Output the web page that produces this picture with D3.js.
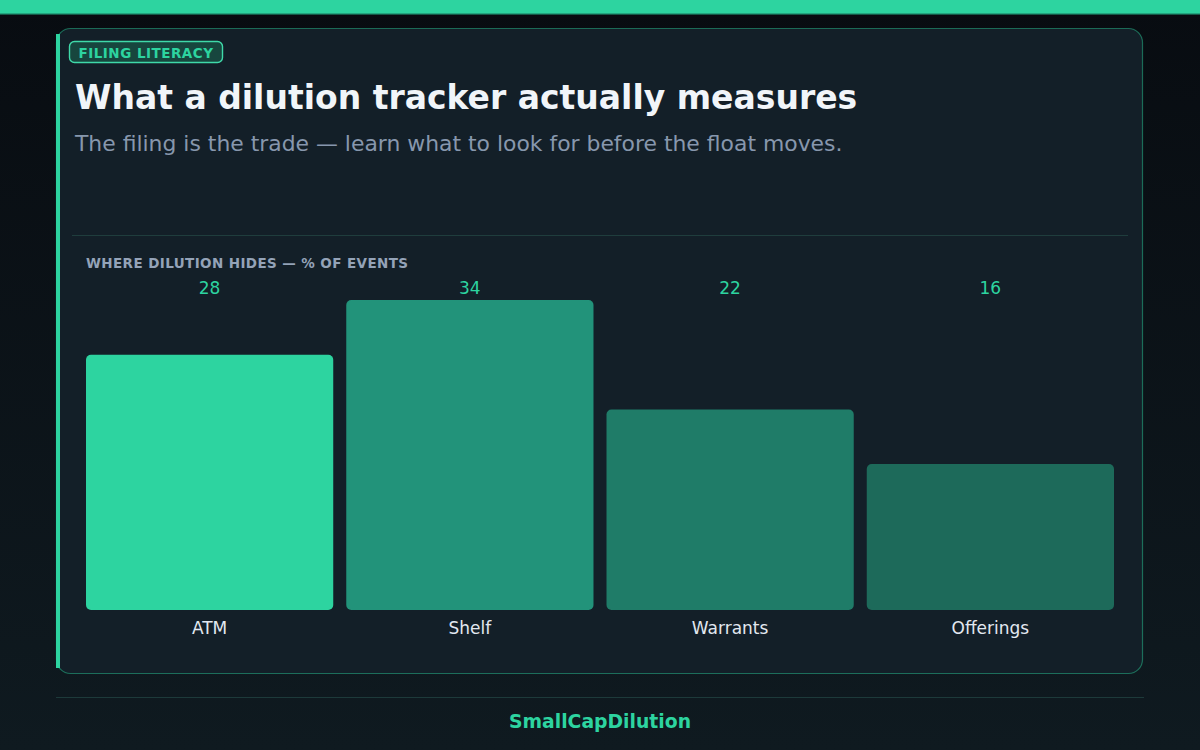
<!DOCTYPE html>
<meta charset="utf-8">
<script src="https://d3js.org/d3.v7.min.js"></script>
<style>
    html, body { margin: 0; padding: 0; background: #0b1117; }
    svg { display: block; font-family: "DejaVu Sans", sans-serif; }
</style>
<body>
<div id="chart"></div>
<script>
    // data
    var categories = ["ATM", "Shelf", "Warrants", "Offerings"];
    var shares = [28, 34, 22, 16];
    var barColors = ["#2dd4a0", "#22937a", "#1f7c68", "#1d6a5a"];

    var width = 1200, height = 750;
    var accent = "#2dd4a0";

    var svg = d3.select("#chart").append("svg")
        .attr("width", width)
        .attr("height", height);

    // background gradient
    var defs = svg.append("defs");
    var bg = defs.append("linearGradient").attr("id", "bg")
        .attr("x1", 0).attr("y1", 0).attr("x2", 0).attr("y2", 1);
    bg.append("stop").attr("offset", "0%").attr("stop-color", "#080c11");
    bg.append("stop").attr("offset", "100%").attr("stop-color", "#0f1a20");

    svg.append("rect").attr("width", width).attr("height", height).attr("fill", "url(#bg)");

    // top strip
    svg.append("rect").attr("x", 0).attr("y", 0).attr("width", width).attr("height", 14).attr("fill", accent);
    svg.append("rect").attr("x", 0).attr("y", 13).attr("width", width).attr("height", 1.5).attr("fill", "#22a57f");

    // card
    var card = { x: 56.5, y: 28.5, w: 1086, h: 645 };
    svg.append("rect")
        .attr("x", card.x).attr("y", card.y)
        .attr("width", card.w).attr("height", card.h)
        .attr("rx", 14)
        .attr("fill", "#131f28")
        .attr("stroke", "rgba(45,212,160,0.45)")
        .attr("stroke-width", 1.2);

    // left accent edge
    svg.append("rect")
        .attr("x", 56).attr("y", 34)
        .attr("width", 4).attr("height", 634)
        .attr("fill", accent);

    // badge
    svg.append("rect")
        .attr("x", 69.5).attr("y", 41.5)
        .attr("width", 153).attr("height", 21)
        .attr("rx", 5)
        .attr("fill", "#17463e")
        .attr("stroke", "#3fd9a9")
        .attr("stroke-width", 1.4);
    svg.append("text")
        .attr("x", 146).attr("y", 57.5)
        .attr("text-anchor", "middle")
        .style("font-size", "13.5px")
        .style("font-weight", "bold")
        .style("letter-spacing", "0.5px")
        .style("fill", accent)
        .text("FILING LITERACY");

    // title + subtitle
    svg.append("text")
        .attr("x", 75).attr("y", 109)
        .style("font-size", "33px")
        .style("font-weight", "bold")
        .style("fill", "#f1f5f9")
        .text("What a dilution tracker actually measures");

    svg.append("text")
        .attr("x", 75).attr("y", 151)
        .style("font-size", "21.9px")
        .style("fill", "#8797ad")
        .text("The filing is the trade \u2014 learn what to look for before the float moves.");

    // divider
    svg.append("line")
        .attr("x1", 72).attr("x2", 1128)
        .attr("y1", 235.5).attr("y2", 235.5)
        .attr("stroke", "#1f3d3d")
        .attr("stroke-width", 1);

    // chart label
    svg.append("text")
        .attr("x", 86).attr("y", 268)
        .style("font-size", "13.5px")
        .style("font-weight", "bold")
        .style("letter-spacing", "0.4px")
        .style("fill", "#94a3b8")
        .text("WHERE DILUTION HIDES \u2014 % OF EVENTS");

    // scales
    var x = d3.scaleBand()
        .domain(categories)
        .range([86, 1114])
        .paddingInner(0.05)
        .paddingOuter(0);

    var y = d3.scaleLinear()
        .domain([0, d3.max(shares)])
        .range([610, 300]);

    var data = categories.map(function (c, i) {
        return { name: c, value: shares[i], color: barColors[i] };
    });

    // bars
    svg.selectAll(".bar")
        .data(data)
        .enter()
        .append("rect")
        .attr("class", "bar")
        .attr("x", d => x(d.name))
        .attr("y", d => y(d.value))
        .attr("width", x.bandwidth())
        .attr("height", d => y(0) - y(d.value))
        .attr("rx", 5)
        .attr("fill", d => d.color);

    // value labels, all on one row above the bars
    svg.selectAll(".val")
        .data(data)
        .enter()
        .append("text")
        .attr("class", "val")
        .attr("x", d => x(d.name) + x.bandwidth() / 2)
        .attr("y", 294)
        .attr("text-anchor", "middle")
        .style("font-size", "17px")
        .style("fill", accent)
        .text(d => d.value);

    // category labels
    svg.selectAll(".cat")
        .data(data)
        .enter()
        .append("text")
        .attr("class", "cat")
        .attr("x", d => x(d.name) + x.bandwidth() / 2)
        .attr("y", 634)
        .attr("text-anchor", "middle")
        .style("font-size", "17px")
        .style("fill", "#e2e8f0")
        .text(d => d.name);

    // footer
    svg.append("line")
        .attr("x1", 56).attr("x2", 1144)
        .attr("y1", 697.5).attr("y2", 697.5)
        .attr("stroke", "#1d3a3a")
        .attr("stroke-width", 1);

    svg.append("text")
        .attr("x", 600).attr("y", 728)
        .attr("text-anchor", "middle")
        .style("font-size", "18.8px")
        .style("font-weight", "bold")
        .style("fill", accent)
        .text("SmallCapDilution");
</script>
</body>
